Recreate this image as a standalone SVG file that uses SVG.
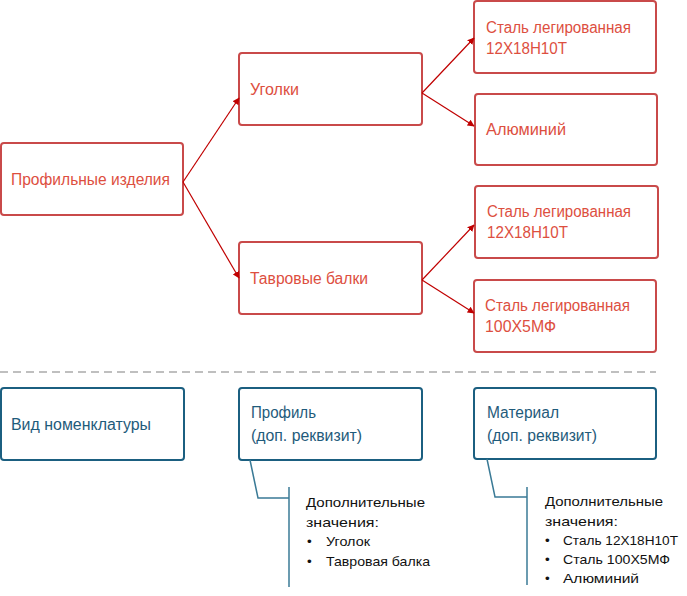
<svg xmlns="http://www.w3.org/2000/svg" width="687" height="596" viewBox="0 0 687 596">
<defs>
<style>
.rbox{fill:#fff;stroke:#c94a4a;stroke-width:2}
.bbox{fill:#fff;stroke:#1b5f80;stroke-width:2}
.rt{font-family:"Liberation Sans",Arial,sans-serif;font-size:16px;fill:#dd4f3f}
.bt{font-family:"Liberation Sans",Arial,sans-serif;font-size:16px;fill:#1f5b7b}
.kt{font-family:"Liberation Sans",Arial,sans-serif;font-size:13.5px;fill:#111}
.con{stroke:#c00000;stroke-width:1.2;fill:none;marker-end:url(#ah)}
.call{stroke:#3a7a96;stroke-width:1.5;fill:none}
</style>
<marker id="ah" viewBox="0 0 10 10" refX="9" refY="5" markerWidth="7" markerHeight="7" markerUnits="userSpaceOnUse" orient="auto">
<path d="M0,0 L10,5 L0,10 z" fill="#c00000"/>
</marker>
</defs>
<rect width="687" height="596" fill="#fff"/>

<g id="n-profilnye">
<rect class="rbox" x="1" y="143" width="182" height="72" rx="3"/>
<text class="rt" x="11" y="185" textLength="159" lengthAdjust="spacingAndGlyphs">Профильные  изделия</text>
</g>
<g id="n-ugolki">
<rect class="rbox" x="239" y="53" width="183" height="72" rx="3"/>
<text class="rt" x="250" y="95" textLength="49" lengthAdjust="spacingAndGlyphs">Уголки</text>
</g>
<g id="n-tavrovye">
<rect class="rbox" x="239" y="242" width="183" height="72" rx="3"/>
<text class="rt" x="250" y="284" textLength="118" lengthAdjust="spacingAndGlyphs">Тавровые  балки</text>
</g>
<g id="n-stal1">
<rect class="rbox" x="474" y="1" width="182" height="72" rx="3"/>
<text class="rt" x="486" y="33" textLength="145" lengthAdjust="spacingAndGlyphs">Сталь легированная</text>
<text class="rt" x="486" y="54" textLength="81" lengthAdjust="spacingAndGlyphs">12X18H10T</text>
</g>
<g id="n-alum">
<rect class="rbox" x="475" y="94" width="182" height="71" rx="3"/>
<text class="rt" x="486" y="135" textLength="80" lengthAdjust="spacingAndGlyphs">Алюминий</text>
</g>
<g id="n-stal2">
<rect class="rbox" x="475" y="186" width="183" height="72" rx="3"/>
<text class="rt" x="487" y="217" textLength="144" lengthAdjust="spacingAndGlyphs">Сталь легированная</text>
<text class="rt" x="487" y="238" textLength="81" lengthAdjust="spacingAndGlyphs">12X18H10T</text>
</g>
<g id="n-stal3">
<rect class="rbox" x="474" y="280" width="182" height="72" rx="3"/>
<text class="rt" x="485" y="311" textLength="145" lengthAdjust="spacingAndGlyphs">Сталь легированная</text>
<text class="rt" x="485" y="332" textLength="71" lengthAdjust="spacingAndGlyphs">100X5МФ</text>
</g>

<g id="connectors">
<line class="con" x1="183" y1="182" x2="239" y2="98"/>
<line class="con" x1="183" y1="182" x2="239" y2="278"/>
<line class="con" x1="422" y1="93" x2="474" y2="38"/>
<line class="con" x1="422" y1="93" x2="474" y2="126"/>
<line class="con" x1="422" y1="280" x2="474" y2="225"/>
<line class="con" x1="422" y1="280" x2="474" y2="313"/>
</g>

<line id="divider" x1="0" y1="372" x2="656" y2="372" stroke="#bfbfbf" stroke-width="2" stroke-dasharray="8,5"/>

<g id="n-vid">
<rect class="bbox" x="1" y="388" width="183" height="72" rx="3"/>
<text class="bt" x="11" y="430" textLength="140" lengthAdjust="spacingAndGlyphs">Вид номенклатуры</text>
</g>
<g id="n-profil">
<rect class="bbox" x="239" y="388" width="183" height="72" rx="3"/>
<text class="bt" x="251" y="418" textLength="65" lengthAdjust="spacingAndGlyphs">Профиль</text>
<text class="bt" x="251" y="441" textLength="111" lengthAdjust="spacingAndGlyphs">(доп. реквизит)</text>
</g>
<g id="n-material">
<rect class="bbox" x="474" y="388" width="182" height="71" rx="3"/>
<text class="bt" x="487" y="418" textLength="72" lengthAdjust="spacingAndGlyphs">Материал</text>
<text class="bt" x="487" y="441" textLength="110" lengthAdjust="spacingAndGlyphs">(доп. реквизит)</text>
</g>

<g id="callout-profil">
<polyline class="call" points="250,460 258,498 289,498"/>
<line class="call" x1="289" y1="487" x2="289" y2="587"/>
<text class="kt" x="306" y="507" textLength="119" lengthAdjust="spacingAndGlyphs">Дополнительные</text>
<text class="kt" x="306" y="527" textLength="73" lengthAdjust="spacingAndGlyphs">значения:</text>
<text class="kt" x="307" y="546">•</text>
<text class="kt" x="326" y="546" textLength="44" lengthAdjust="spacingAndGlyphs">Уголок</text>
<text class="kt" x="307" y="566">•</text>
<text class="kt" x="326" y="566" textLength="104" lengthAdjust="spacingAndGlyphs">Тавровая балка</text>
</g>

<g id="callout-material">
<polyline class="call" points="487,459 495,497 527,497"/>
<line class="call" x1="527" y1="487" x2="527" y2="585"/>
<text class="kt" x="545" y="506" textLength="118" lengthAdjust="spacingAndGlyphs">Дополнительные</text>
<text class="kt" x="545" y="526" textLength="73" lengthAdjust="spacingAndGlyphs">значения:</text>
<text class="kt" x="545" y="545">•</text>
<text class="kt" x="563" y="545" textLength="115" lengthAdjust="spacingAndGlyphs">Сталь 12X18H10T</text>
<text class="kt" x="545" y="564">•</text>
<text class="kt" x="563" y="564" textLength="107" lengthAdjust="spacingAndGlyphs">Сталь 100X5МФ</text>
<text class="kt" x="545" y="583">•</text>
<text class="kt" x="563" y="583" textLength="76" lengthAdjust="spacingAndGlyphs">Алюминий</text>
</g>
</svg>
